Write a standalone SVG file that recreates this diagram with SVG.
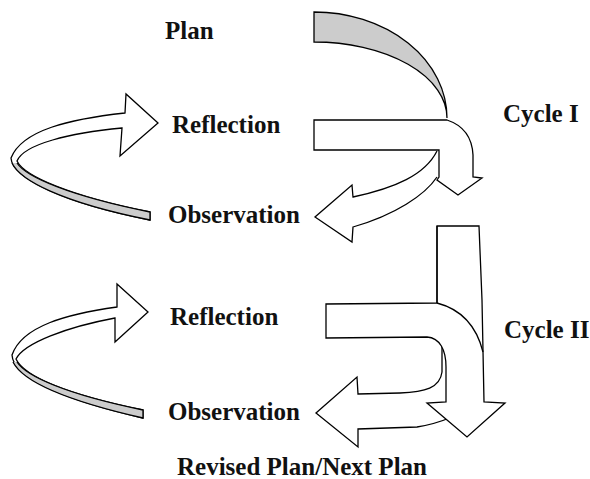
<svg xmlns="http://www.w3.org/2000/svg" width="590" height="479" viewBox="0 0 590 479">
<style>
.s{stroke:#000;stroke-width:1.3;stroke-linejoin:miter;fill:#fff}
.g{fill:#cccccc;stroke:#000;stroke-width:1.3}
.gf{fill:#cccccc;stroke:none}
.t{font-family:"Liberation Serif","Times New Roman",serif;font-weight:bold;font-size:25px;fill:#111}
</style>
<rect width="590" height="479" fill="#fff"/>
<g id="connectors">
  <!-- Cycle I: plan arrow (gray curved band) -->
  <path class="g" d="M314,12 A133,106 0 0 1 447,118 A133,76 0 0 0 314,42 Z"/>
  <!-- Cycle I: observation arrow -->
  <path class="s" d="M437,151 C425,175 395,188 353,197 L352,185 L315,217 L352,242 L353,227 C395,215 425,195 437,177"/>
  <!-- Cycle I: reflection bent arrow -->
  <path class="s" d="M314,120 L447,120 C462,125 472,135 473,155 L473,177 L482,178 L458,195 L437,180 L439,177 L439,150 L314,150 Z"/>
  <!-- Cycle I: left loop ribbon -->
  <path class="s" d="M125,113 C70,119 22,130 11,158 C12,177 60,202 150,220 L150,212 C70,196 24,176 17,161 C24,144 70,133 122,128 L120,156 L158,123 L126,94 Z"/>
  <path class="gf" d="M12,163 C20,180 60,202 150,220 L150,212 C70,196 26,177 17,163 Z"/>
  <path fill="none" stroke="#000" stroke-width="1.3" d="M12,163 C20,180 60,202 150,220 L150,212 C70,196 26,177 17,163"/>

  <!-- Cycle II: observation arrow -->
  <path class="s" d="M442,346 L442,372 C440,388 425,392 400,393 L358,394 L357,377 L316,413 L358,447 L358,429 L417,427 C430,425 440,422 452,417"/>
  <!-- Cycle II: plan + reflection bent arrow -->
  <path class="s" d="M437,226 L479,226 L482,300 L484,402 L505,403 L467,437 L427,403 L446,402 L446,367 C446,350 440,338 427,337 L326,338 L326,304 L437,303 Z"/>
  <path fill="none" stroke="#000" stroke-width="1.3" d="M437,226 L437,303 M437,303 C460,309 476,324 483,352"/>
  <!-- Cycle II: left loop ribbon -->
  <path class="s" d="M117,307 C67,314 22,326 12,355 C13,375 55,398 143,418 L143,410 C65,394 24,376 16,359 C24,343 67,327 115,318 L115,342 L148,312 L117,284 Z"/>
  <path class="gf" d="M13,362 C21,378 55,398 143,418 L143,410 C65,394 26,376 17,362 Z"/>
  <path fill="none" stroke="#000" stroke-width="1.3" d="M13,362 C21,378 55,398 143,418 L143,410 C65,394 26,376 17,362"/>
</g>
<g id="node-plan"><text class="t" x="165" y="39">Plan</text></g>
<g id="node-reflection1"><text class="t" x="172" y="133">Reflection</text></g>
<g id="node-observation1"><text class="t" x="168" y="223">Observation</text></g>
<g id="node-cycle1"><text class="t" x="503" y="122">Cycle I</text></g>
<g id="node-reflection2"><text class="t" x="170" y="325">Reflection</text></g>
<g id="node-observation2"><text class="t" x="168" y="420">Observation</text></g>
<g id="node-cycle2"><text class="t" x="504" y="338">Cycle II</text></g>
<g id="node-revised"><text class="t" x="177" y="475">Revised Plan/Next Plan</text></g>
</svg>
